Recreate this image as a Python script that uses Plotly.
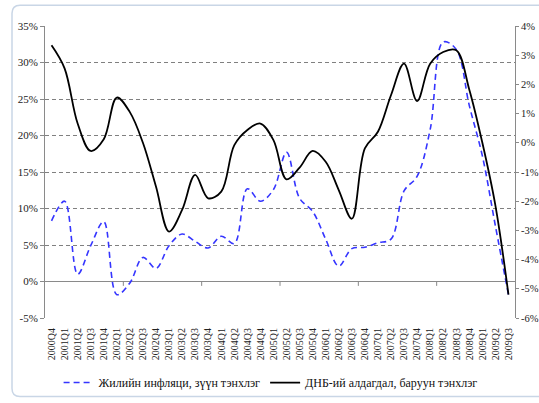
import plotly.graph_objects as go

quarters = ["2000Q4",
            "2001Q1", "2001Q2", "2001Q3", "2001Q4",
            "2002Q1", "2002Q2", "2002Q3", "2002Q4",
            "2003Q1", "2003Q2", "2003Q3", "2003Q4",
            "2004Q1", "2004Q2", "2004Q3", "2004Q4",
            "2005Q1", "2005Q2", "2005Q3", "2005Q4",
            "2006Q1", "2006Q2", "2006Q3", "2006Q4",
            "2007Q1", "2007Q2", "2007Q3", "2007Q4",
            "2008Q1", "2008Q2", "2008Q3", "2008Q4",
            "2009Q1", "2009Q2", "2009Q3"]

inflation = [8.3, 11.0, 1.0, 4.9, 8.2, -1.8, -0.2, 3.3, 1.8, 4.9, 6.5, 5.5,
             4.6, 6.2, 5.2, 12.7, 11.0, 12.6, 17.7, 11.4, 9.6, 5.8, 2.1, 4.5,
             4.7, 5.3, 5.8, 12.4, 14.4, 20.8, 32.8, 31.8, 24.1, 17.2, 7.6, -1.8]

gdp_gap = [3.34, 2.55, 0.66, -0.28, 0.12, 1.55, 1.05, 0.0, -1.5, -3.04, -2.3, -1.1,
           -1.9, -1.67, -0.08, 0.44, 0.66, 0.09, -1.25, -0.85, -0.28, -0.65, -1.62, -2.6,
           -0.19, 0.38, 1.63, 2.71, 1.43, 2.71, 3.11, 3.17, 1.82, 0.0, -2.15, -5.2]

left_vals = [-5, 0, 5, 10, 15, 20, 25, 30, 35]
left_text = ["-5%", "0%", "5%", "10%", "15%", "20%", "25%", "30%", "35%"]
right_vals = [-6, -5, -4, -3, -2, -1, 0, 1, 2, 3, 4]
right_text = ["-6%", "-5%", "-4%", "-3%", "-2%", "-1%", "0%", "1%", "2%", "3%", "4%"]

name_infl = "Жилийн инфляци, зүүн тэнхлэг"
name_gdp = "ДНБ-ий алдагдал, баруун тэнхлэг"

FONT = "Liberation Serif, Times New Roman, DejaVu Serif, serif"

fig = go.Figure()
fig.add_trace(go.Scatter(
    x=quarters, y=inflation, name=name_infl, mode="lines",
    line=dict(color="#3535ff", width=1.6, dash="6px,4px", shape="spline", smoothing=1.0),
    yaxis="y"))
fig.add_trace(go.Scatter(
    x=quarters, y=gdp_gap, name=name_gdp, mode="lines",
    line=dict(color="#000000", width=1.8, shape="spline", smoothing=1.0),
    yaxis="y2"))

# small tick marks on the zero line every 6 categories
shapes = []
for k in range(6, len(quarters), 6):
    shapes.append(dict(type="line", xref="x", yref="y", x0=k - 0.5, x1=k - 0.5,
                       y0=0, y1=-0.6, line=dict(color="#888888", width=1)))

# rounded outer border
xl, xr = -0.0702, 1.07
yb, yt = -0.269, 1.0707
rx, ry = 8 / 470, 8 / 292.6
path = (f"M {xl+rx},{yt} L {xr-rx},{yt} Q {xr},{yt} {xr},{yt-ry} "
        f"L {xr},{yb+ry} Q {xr},{yb} {xr-rx},{yb} "
        f"L {xl+rx},{yb} Q {xl},{yb} {xl},{yb+ry} "
        f"L {xl},{yt-ry} Q {xl},{yt} {xl+rx},{yt} Z")
shapes.append(dict(type="path", xref="paper", yref="paper", path=path,
                   line=dict(color="#c9d6e6", width=1.5), layer="below"))

fig.update_layout(
    width=539, height=403,
    margin=dict(l=45, r=24, t=26, b=85, autoexpand=False),
    paper_bgcolor="white", plot_bgcolor="white",
    font=dict(family=FONT, size=10, color="#222222"),
    showlegend=True,
    legend=dict(orientation="h", x=0.48, xanchor="center", y=-0.221, yanchor="middle",
                font=dict(family=FONT, size=12, color="#111111"),
                bgcolor="rgba(0,0,0,0)", tracegroupgap=0),
    xaxis=dict(type="category", range=[-0.5, len(quarters) - 0.5],
               tickangle=-90, tickfont=dict(family=FONT, size=10, color="#222222"),
               showgrid=False, showline=False, zeroline=False, ticks="",
               ticklabelstandoff=7, automargin=False),
    yaxis=dict(range=[-5, 35], tickvals=left_vals, ticktext=left_text,
               showgrid=True, gridcolor="#808080", griddash="4px,3px", gridwidth=1,
               zeroline=True, zerolinecolor="#8a8a8a", zerolinewidth=1,
               showline=True, linecolor="#8a8a8a", linewidth=1,
               ticks="outside", ticklen=4, tickcolor="#8a8a8a", automargin=False,
               tickfont=dict(family=FONT, size=11, color="#222222")),
    yaxis2=dict(range=[-6, 4], tickvals=right_vals, ticktext=right_text,
                overlaying="y", side="right", showgrid=False, zeroline=False,
                showline=True, linecolor="#8a8a8a", linewidth=1,
                ticks="outside", ticklen=3, tickcolor="#8a8a8a", automargin=False,
                tickfont=dict(family=FONT, size=10.5, color="#222222")),
    shapes=shapes,
)

fig.write_html("out.html", config={"displayModeBar": False},
               post_script="document.body.style.margin='0';document.body.style.padding='0';")
